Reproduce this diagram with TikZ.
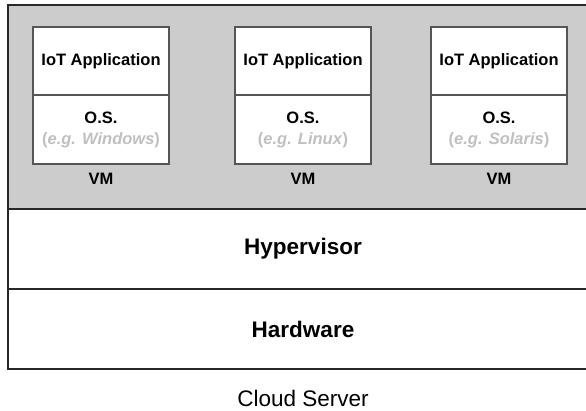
\documentclass[tikz,border=0pt]{standalone}
\usepackage{fontspec}
\setmainfont{Liberation Sans}
\usetikzlibrary{positioning}
\definecolor{vmgray}{RGB}{204,204,204}
\definecolor{osgray}{RGB}{192,192,192}
\definecolor{edgegray}{RGB}{40,40,40}
\definecolor{boxedge}{RGB}{85,85,85}

\begin{document}
\begin{tikzpicture}[
    x=1pt, y=-1pt,
    font=\fontsize{16.5}{21}\selectfont\bfseries,
    layer/.style={draw=edgegray, line width=2pt, minimum width=590pt,
        minimum height=#1, inner sep=0pt, outer sep=0pt, anchor=north west,
        font=\fontsize{22.5}{26}\selectfont\bfseries},
    layer/.default=80pt,
    vmbox/.style={draw=boxedge, line width=1.3pt, fill=white,
        minimum width=136pt, minimum height=68pt, inner sep=0pt,
        outer sep=0pt, anchor=north west, align=center},
    tag/.style={inner sep=0pt}
]

    % Frame (the server box runs past the right edge)
    \useasboundingbox (0,0) rectangle (586,410);

    % Layers of the server
    \node[layer=204pt, fill=vmgray] (vms) at (8,5) {};
    \node[layer] (hyper) at (vms.south west) {Hypervisor};
    \node[layer] (hard)  at (hyper.south west) {Hardware};

    % Virtual machines
    \foreach \i/\x/\os in {1/33/Windows, 2/235/Linux, 3/431/Solaris} {
        \node[vmbox] (app\i) at (\x,27) {IoT Application};
        \node[vmbox, minimum height=69pt] (os\i) at (app\i.south west)
            {O.S.\\{\color{osgray}(\textit{e.g. \os})}};
        \node[tag, below=9pt of os\i] (vm\i) {VM};
    }

    % Caption
    \node[tag, below=21pt of hard, font=\fontsize{22.5}{26}\selectfont] (cloud) {Cloud Server};

\end{tikzpicture}
\end{document}
